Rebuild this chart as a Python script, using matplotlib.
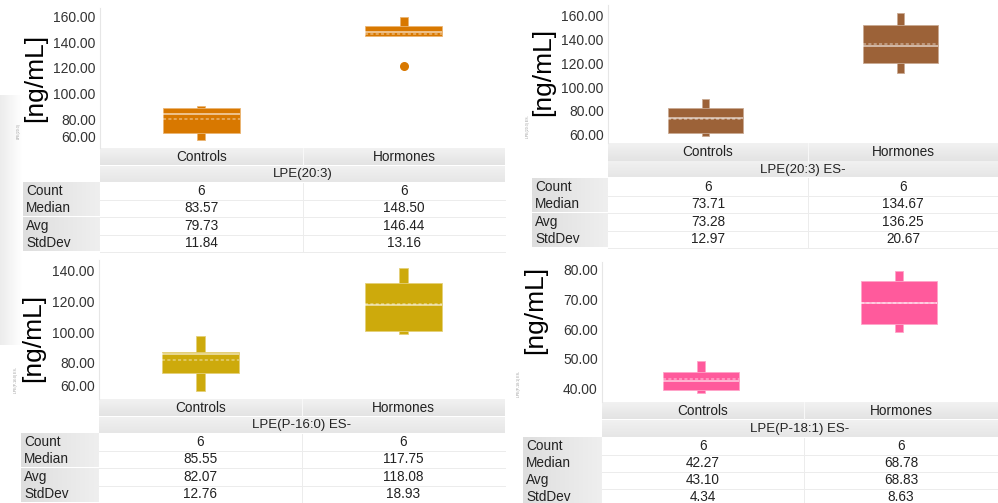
import matplotlib
matplotlib.use("Agg")
import matplotlib.pyplot as plt
import numpy as np

W, H = 998, 503
plt.rcParams['font.family'] = ['Liberation Sans', 'DejaVu Sans']

groups = ["Controls", "Hormones"]
stat_names = ["Count", "Median", "Avg", "StdDev"]

titles = ["LPE(20:3)", "LPE(20:3) ES-", "LPE(P-16:0) ES-", "LPE(P-18:1) ES-"]
colors = ["#D87800", "#9C6238", "#CDAA0C", "#FF5A9C"]

# box shapes (per panel: [Controls, Hormones])
whisk_lo = [[63.5, 145.5], [59.0, 112.0], [61.8, 98.7], [38.3, 59.0]]
q1 = [[69.0, 145.0], [61.5, 120.0], [73.5, 100.6], [39.3, 61.7]]
q3 = [[88.6, 153.0], [82.5, 152.4], [87.0, 132.0], [45.4, 76.3]]
whisk_hi = [[90.0, 160.0], [90.0, 162.0], [97.6, 142.0], [49.2, 79.7]]
outliers = [[[], [121.5]], [[], []], [[], []], [[], []]]

# table values
counts = [[6, 6], [6, 6], [6, 6], [6, 6]]
medians = [[83.57, 148.50], [73.71, 134.67], [85.55, 117.75], [42.27, 68.78]]
avgs = [[79.73, 146.44], [73.28, 136.25], [82.07, 118.08], [43.10, 68.83]]
stddevs = [[11.84, 13.16], [12.97, 20.67], [12.76, 18.93], [4.34, 8.63]]

yticks = [[60, 80, 100, 120, 140, 160], [60, 80, 100, 120, 140, 160],
          [60, 80, 100, 120, 140], [40, 50, 60, 70, 80]]
ylims = [(57.3, 167), (53, 169), (56.5, 147), (35.3, 82.7)]

# pixel layout: axes (l, t, r, b), label col left, divider, row edges, ylabel, tiny label
layout = [
    dict(ax=(100, 8, 505, 148), lab=23, div=303,
         rows=[148, 166, 182.5, 200, 217, 234.5, 252], yl=(35, 78), tiny=(19, 131)),
    dict(ax=(608, 5, 998, 143), lab=532, div=808,
         rows=[143, 162, 178, 195.5, 213, 230.5, 248], yl=(543, 72), tiny=(528, 127)),
    dict(ax=(99, 260, 505, 399), lab=21, div=302,
         rows=[399, 417, 433.5, 450.5, 468, 485.5, 503], yl=(33, 338), tiny=(16, 380)),
    dict(ax=(602, 262, 998, 402), lab=523, div=804,
         rows=[402, 420, 437.5, 454.5, 471.5, 488.5, 505.5], yl=(535, 310), tiny=(519, 384)),
]

fig = plt.figure(figsize=(W / 100, H / 100), dpi=100)
bg = fig.add_axes([0, 0, 1, 1], zorder=0)
bg.set_xlim(0, W)
bg.set_ylim(H, 0)
bg.axis("off")


def gradient(x0, x1, y0, y1, c0, c1, vertical=False):
    n = 64
    t = np.linspace(0, 1, n)
    c0 = np.array(matplotlib.colors.to_rgb(c0))
    c1 = np.array(matplotlib.colors.to_rgb(c1))
    cols = c0[None, :] * (1 - t[:, None]) + c1[None, :] * t[:, None]
    img = cols[:, None, :] if vertical else cols[None, :, :]
    bg.imshow(img, extent=(x0, x1, y1, y0), aspect="auto", interpolation="bilinear", zorder=1)


# faint shading along the left edge of the screenshot
gradient(0, 22, 95, 345, "#ececec", "#ffffff")

for i in range(4):
    L = layout[i]
    l, t, r, b = L["ax"]
    ax = fig.add_axes([l / W, 1 - b / H, (r - l) / W, (b - t) / H], zorder=2)
    col = colors[i]
    light = tuple(0.55 * np.array(matplotlib.colors.to_rgb(col)) + 0.45)
    x = np.arange(len(groups))
    ax.bar(x, np.array(whisk_hi[i]) - np.array(whisk_lo[i]), bottom=whisk_lo[i],
           width=0.04, color=col, edgecolor=light, linewidth=0.6, zorder=2)
    ax.bar(x, np.array(q3[i]) - np.array(q1[i]), bottom=q1[i],
           width=0.38, color=col, edgecolor=light, linewidth=0.6, zorder=3)
    ax.hlines(medians[i], x - 0.19, x + 0.19, color="white", alpha=0.7, lw=1.1, zorder=4)
    ax.hlines(avgs[i], x - 0.19, x + 0.19, color="white", alpha=0.45, lw=1.1,
              linestyles=(0, (2, 1.5)), zorder=4)
    for k in range(len(groups)):
        if outliers[i][k]:
            ax.scatter([x[k]] * len(outliers[i][k]), outliers[i][k], s=30, color=col, zorder=5)
    ax.set_xlim(-0.5, 1.5)
    ax.set_ylim(*ylims[i])
    ax.set_yticks(yticks[i])
    ax.set_yticklabels([f"{v:.2f}" for v in yticks[i]], fontsize=10, color="#333333")
    ax.tick_params(axis="y", length=0, pad=3)
    ax.set_xticks([])
    for s in ["top", "right", "bottom"]:
        ax.spines[s].set_visible(False)
    ax.spines["left"].set_color("#e6e6e6")
    # push the lowest label up when it would run into the table
    ppu = (b - t) / (ylims[i][1] - ylims[i][0])
    if (yticks[i][0] - ylims[i][0]) * ppu < 7:
        ax.get_yticklabels()[0].set_verticalalignment("bottom")

    fig.text(L["yl"][0] / W, 1 - L["yl"][1] / H, "[ng/mL]", rotation=90,
             fontsize=19, ha="center", va="center")
    fig.text(L["tiny"][0] / W, 1 - L["tiny"][1] / H, titles[i], rotation=90,
             fontsize=2.5, color="#999999", ha="center", va="center")

    # table under the plot
    rows = L["rows"]
    lab, div = L["lab"], L["div"]
    gradient(l, r, rows[0], rows[1] - 0.8, "#f3f3f3", "#e3e3e3", vertical=True)
    gradient(l, r, rows[1], rows[2] - 0.8, "#f1f1f1", "#e6e6e6", vertical=True)
    bg.plot([div, div], [rows[0], rows[1]], color="#f8f8f8", lw=0.8, zorder=2)
    centers = [(l + div) / 2, (div + r) / 2]
    for k, g in enumerate(groups):
        bg.text(centers[k], (rows[0] + rows[1]) / 2, g, fontsize=9.8,
                ha="center", va="center", color="#222222", zorder=3)
    bg.text((l + r) / 2, (rows[1] + rows[2]) / 2, titles[i], fontsize=9.5,
            ha="center", va="center", color="#222222", zorder=3)
    table_vals = [counts[i], medians[i], avgs[i], stddevs[i]]
    for j, name in enumerate(stat_names):
        y0, y1 = rows[2 + j], rows[3 + j]
        gradient(lab, l, y0, y1 - 0.6, "#dedede", "#efefef")
        bg.text(lab + 3, (y0 + y1) / 2, name, fontsize=9.8, ha="left", va="center",
                color="#222222", zorder=3)
        bg.plot([l, r], [y1, y1], color="#ececec", lw=0.7, zorder=2)
        for k in range(len(groups)):
            v = table_vals[j][k]
            s = str(v) if j == 0 else f"{v:.2f}"
            bg.text(centers[k], (y0 + y1) / 2, s, fontsize=9.8, ha="center",
                    va="center", color="#222222", zorder=3)
    bg.plot([div, div], [rows[2], rows[-1]], color="#ececec", lw=0.7, zorder=2)

bg.set_xlim(0, W)
bg.set_ylim(H, 0)
fig.savefig("out.png", dpi=100)
